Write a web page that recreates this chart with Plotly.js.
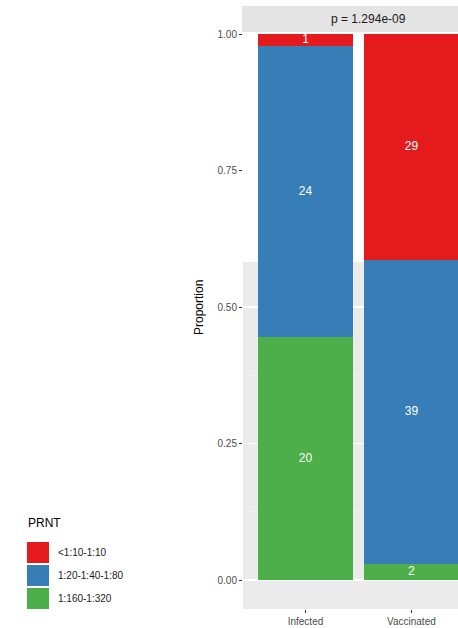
<!DOCTYPE html>
<html><head><meta charset="utf-8">
<script src="https://cdn.plot.ly/plotly-3.0.1.min.js"></script>
<style>html,body{margin:0;padding:0;background:#fff}#chart{width:458px;height:628px}</style>
</head><body><div id="chart"></div>
<script>
// ---- data ----
var groups = ['Infected', 'Vaccinated'];
var levels = ['<1:10-1:10', '1:20-1:40-1:80', '1:160-1:320'];
var countsLow  = [1, 29];   // <1:10-1:10
var countsMid  = [24, 39];  // 1:20-1:40-1:80
var countsHigh = [20, 2];   // 1:160-1:320
var levelColors = ['#E41A1C', '#377EB8', '#4DAF4A'];
var stripLabel = 'p = 1.294e-09';
var yTicks = [0, 0.25, 0.5, 0.75, 1.0];
var yTickText = ['0.00', '0.25', '0.50', '0.75', '1.00'];

// ---- layout geometry ----
var W = 458, H = 628;
var mL = 243, mR = 0, mT = 32, mB = 19;
var plotW = W - mL - mR, plotH = H - mT - mB;
function px2x(px) { return (px - mL) / plotW; }
function py2y(py) { return (H - mB - py) / plotH; }

var totals = groups.map(function (g, i) { return countsLow[i] + countsMid[i] + countsHigh[i]; });
function prop(arr) { return arr.map(function (v, i) { return v / totals[i]; }); }
var pHigh = prop(countsHigh), pMid = prop(countsMid), pLow = prop(countsLow);

var font = 'Liberation Sans, Arial, sans-serif';
var traces = [];
var stackDefs = [
  {name: levels[2], p: pHigh, c: countsHigh, color: levelColors[2]},
  {name: levels[1], p: pMid, c: countsMid, color: levelColors[1]},
  {name: levels[0], p: pLow, c: countsLow, color: levelColors[0]}
];
stackDefs.forEach(function (d) {
  traces.push({type: 'bar', x: groups, y: d.p, name: d.name, width: 0.9,
    marker: {color: d.color, line: {width: 0}}, hoverinfo: 'skip', showlegend: false});
});
// labels at segment midpoints
var base = groups.map(function () { return 0; });
var lx = [], ly = [], lt = [];
stackDefs.forEach(function (d) {
  groups.forEach(function (g, i) {
    lx.push(g); ly.push(base[i] + d.p[i] / 2); lt.push(String(d.c[i]));
    base[i] += d.p[i];
  });
});
traces.push({type: 'scatter', mode: 'text', x: lx, y: ly, text: lt,
  textfont: {color: '#FFFFFF', size: 12, family: font}, hoverinfo: 'skip', showlegend: false, cliponaxis: false});

var shapes = [];
var annotations = [];
// white upper background (as in reference)
shapes.push({type: 'rect', xref: 'paper', yref: 'paper', x0: 0, x1: 1, y0: py2y(262), y1: 1,
  fillcolor: '#FFFFFF', line: {width: 0}, layer: 'between'});
// strip
shapes.push({type: 'rect', xref: 'paper', yref: 'paper', x0: px2x(242), x1: 1, y0: 1, y1: py2y(6),
  fillcolor: '#E4E4E4', line: {width: 0}, layer: 'above'});
annotations.push({xref: 'paper', yref: 'paper', x: px2x(368), y: py2y(19), text: stripLabel,
  showarrow: false, xanchor: 'center', yanchor: 'middle', font: {family: font, size: 12, color: '#1A1A1A'}});
// y title
annotations.push({xref: 'paper', yref: 'paper', x: px2x(199), y: py2y(308), text: 'Proportion', textangle: -90,
  showarrow: false, xanchor: 'center', yanchor: 'middle', font: {family: font, size: 12, color: '#000000'}});
// legend
annotations.push({xref: 'paper', yref: 'paper', x: px2x(26), y: py2y(523), text: 'PRNT',
  showarrow: false, xanchor: 'left', yanchor: 'middle', font: {family: font, size: 12, color: '#000000'}});
levels.forEach(function (lv, k) {
  var top = 542 + k * 23;
  shapes.push({type: 'rect', xref: 'paper', yref: 'paper', x0: px2x(27), x1: px2x(49), y0: py2y(top + 21), y1: py2y(top),
    fillcolor: levelColors[k], line: {width: 0}, layer: 'above'});
  annotations.push({xref: 'paper', yref: 'paper', x: px2x(56), y: py2y(top + 10.5), text: lv.replace('<', '&lt;'),
    showarrow: false, xanchor: 'left', yanchor: 'middle', font: {family: font, size: 10, color: '#1A1A1A'}});
});

var layout = {
  width: W, height: H,
  margin: {l: mL, r: mR, t: mT, b: mB, pad: 0},
  paper_bgcolor: '#FFFFFF', plot_bgcolor: '#EBEBEB',
  barmode: 'stack', bargap: 0.1, showlegend: false,
  font: {family: font},
  xaxis: {type: 'category', range: [-0.59, 1.44], showgrid: false, zeroline: false,
    ticks: 'outside', ticklen: 3, tickcolor: '#333333', tickwidth: 1,
    tickfont: {family: font, size: 10, color: '#4D4D4D'}, showline: false, fixedrange: true},
  yaxis: {range: [-0.0531, 1.0037], tickvals: yTicks, ticktext: yTickText,
    ticks: 'outside', ticklen: 3, tickcolor: '#333333', tickwidth: 1,
    tickfont: {family: font, size: 10, color: '#4D4D4D'},
    showgrid: true, gridcolor: '#FFFFFF', gridwidth: 1.1,
    minor: {tickvals: [0.125, 0.375], showgrid: true, gridcolor: '#F4F4F4', gridwidth: 0.6, ticks: ''},
    zeroline: false, showline: false, fixedrange: true},
  shapes: shapes, annotations: annotations
};
Plotly.newPlot('chart', traces, layout, {displayModeBar: false, staticPlot: true});
</script></body></html>
